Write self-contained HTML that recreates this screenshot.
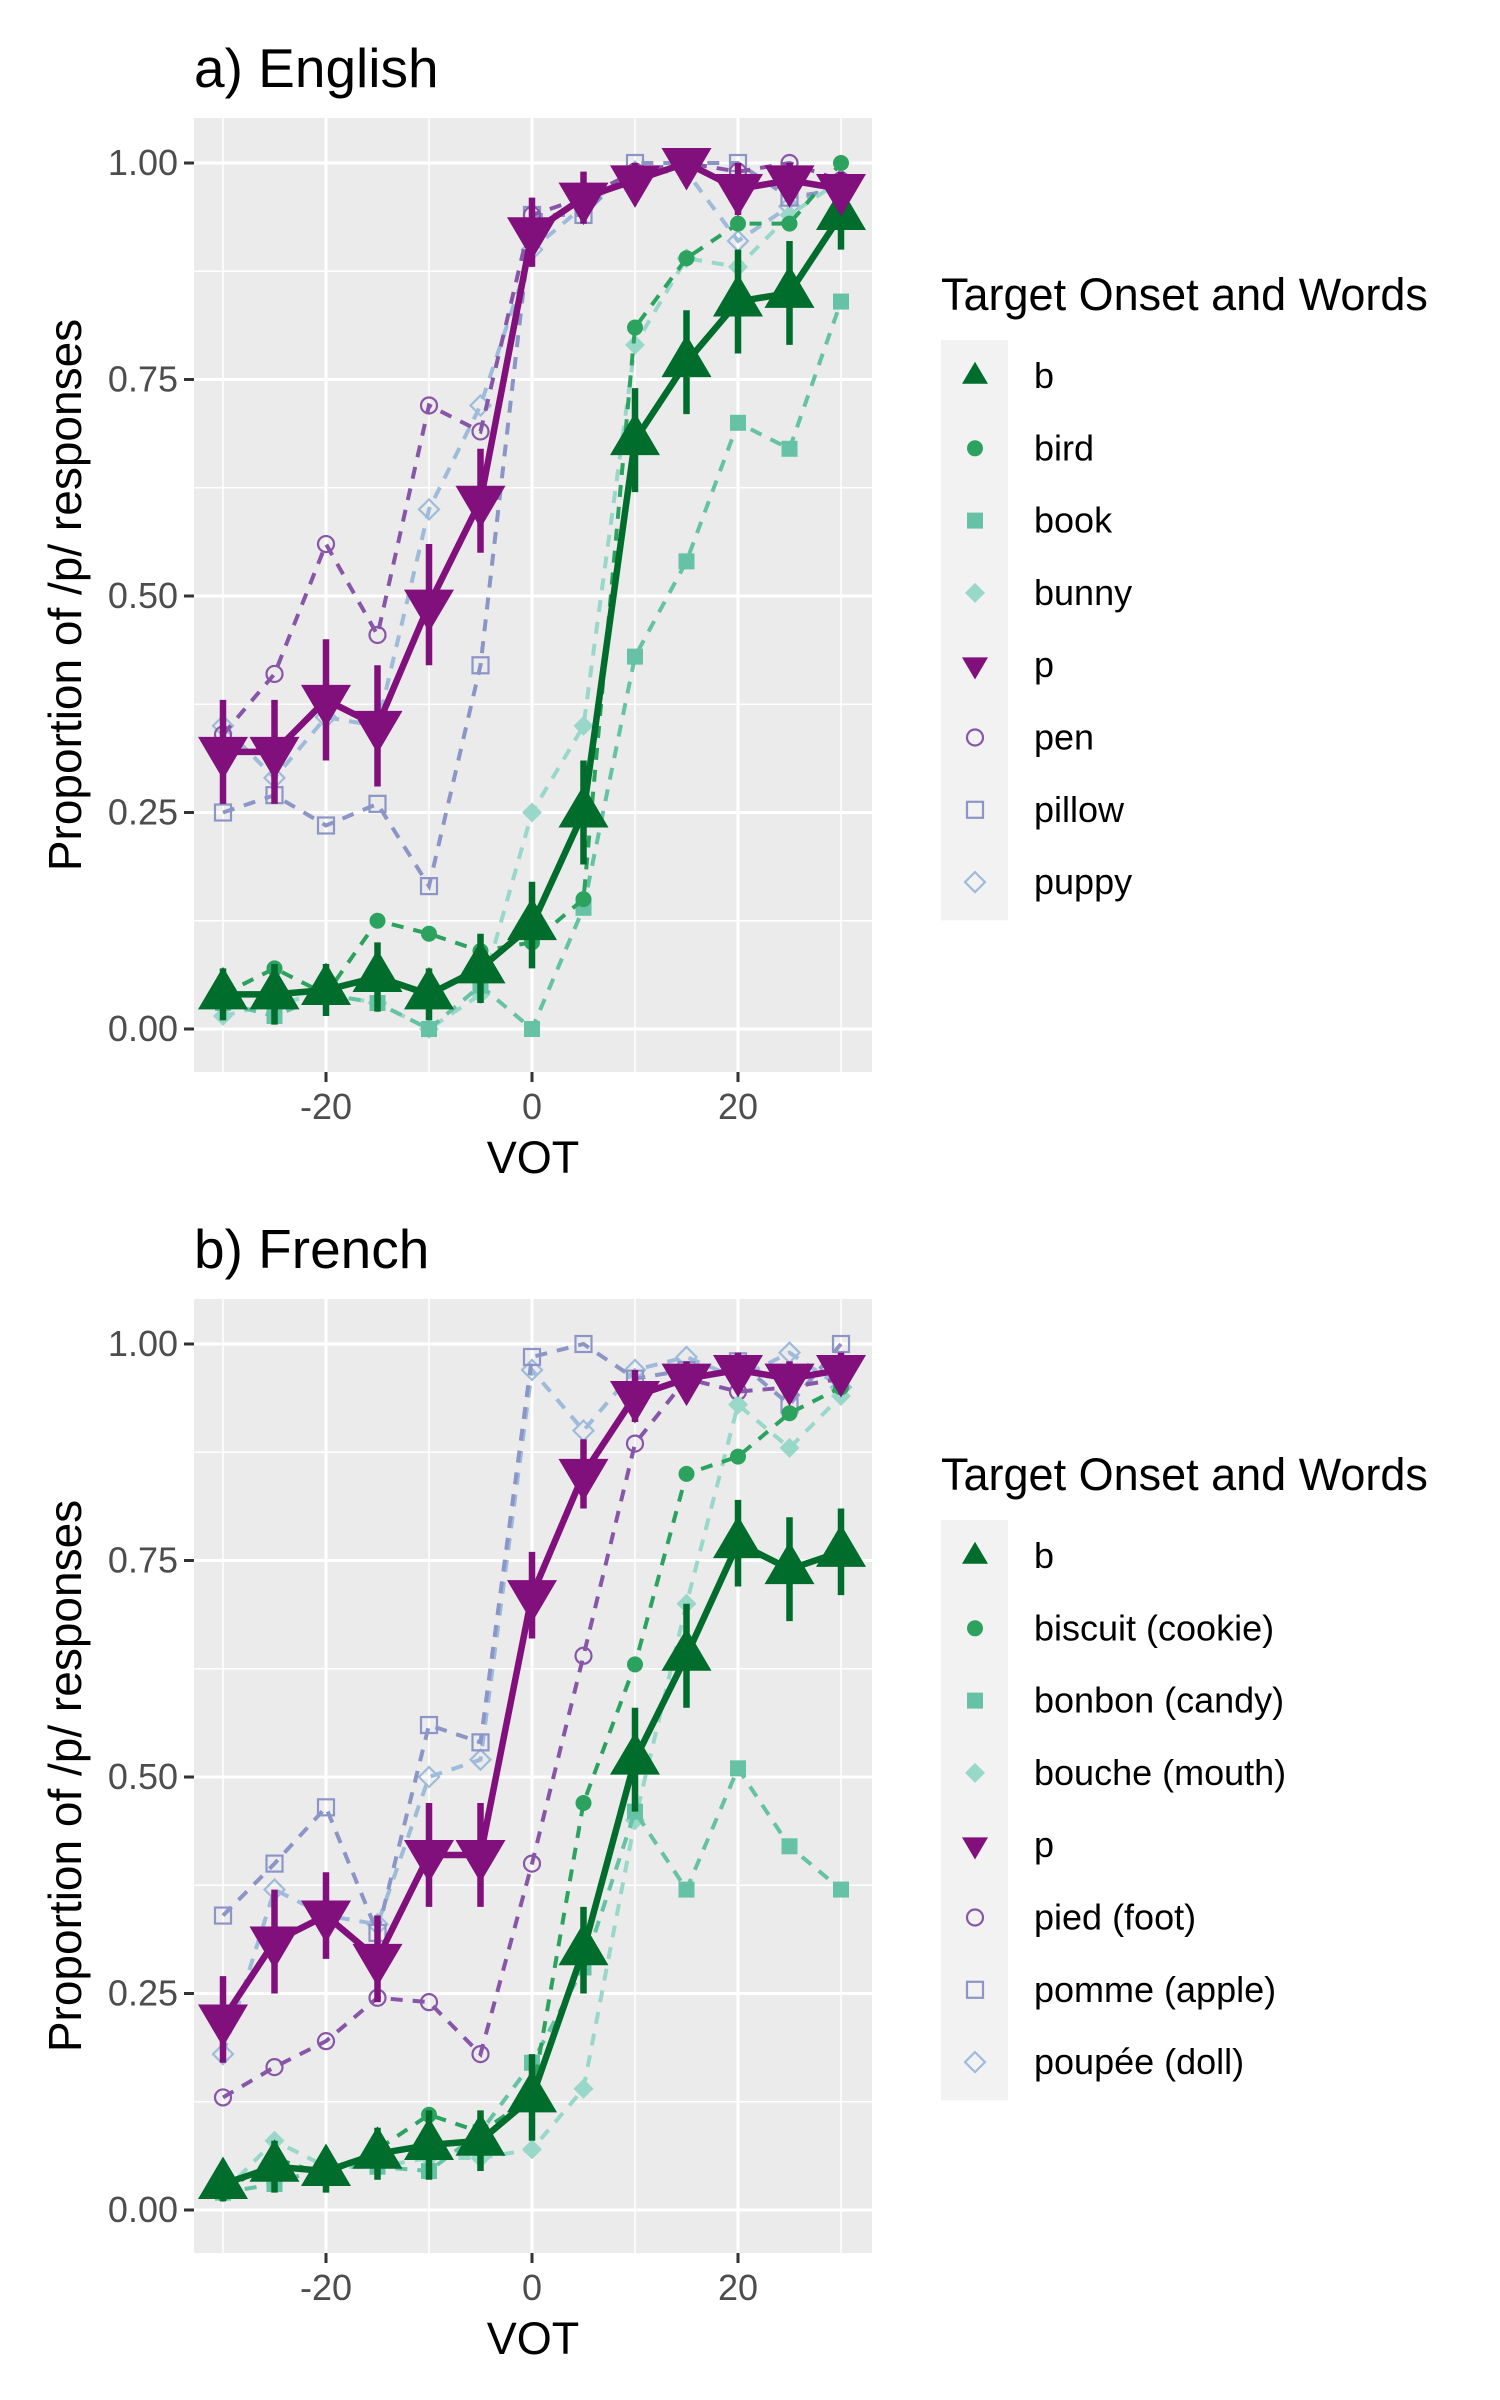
<!DOCTYPE html>
<html><head><meta charset="utf-8"><style>
html,body{margin:0;padding:0;background:#fff}
svg{display:block;font-family:"Liberation Sans",Arial,sans-serif}
</style></head><body>
<svg id="chart" width="1500" height="2400" viewBox="0 0 1500 2400" xmlns="http://www.w3.org/2000/svg"></svg>
<script>
const vot = [-30,-25,-20,-15,-10,-5,0,5,10,15,20,25,30];
const xTicks = [-20,0,20];
const yTicks = [0,0.25,0.5,0.75,1];
const yTickLabels = ["0.00","0.25","0.50","0.75","1.00"];

// English
const enNames = ["b","bird","book","bunny","p","pen","pillow","puppy"];
const en_b      = [0.04,0.04,0.045,0.06,0.04,0.07,0.12,0.25,0.68,0.77,0.84,0.85,0.94];
const en_b_err  = [0.03,0.035,0.03,0.04,0.03,0.04,0.05,0.06,0.06,0.06,0.06,0.06,0.04];
const en_bird   = [0.04,0.07,0.04,0.125,0.11,0.09,0.10,0.15,0.81,0.89,0.93,0.93,1.00];
const en_book   = [0.03,0.015,0.04,0.03,0.0,0.05,0.0,0.14,0.43,0.54,0.70,0.67,0.84];
const en_bunny  = [0.015,0.03,0.04,0.03,0.0,0.04,0.25,0.35,0.79,0.89,0.88,0.94,0.98];
const en_p      = [0.32,0.32,0.38,0.35,0.49,0.61,0.92,0.96,0.98,1.00,0.97,0.98,0.97];
const en_p_err  = [0.06,0.06,0.07,0.07,0.07,0.06,0.04,0.03,0.02,0.01,0.03,0.02,0.02];
const en_pen    = [0.34,0.41,0.56,0.455,0.72,0.69,0.94,0.96,0.99,1.00,0.99,1.00,0.98];
const en_pillow = [0.25,0.27,0.235,0.26,0.165,0.42,0.94,0.94,1.00,1.00,1.00,0.96,0.97];
const en_puppy  = [0.35,0.29,0.36,0.35,0.60,0.72,0.90,0.95,0.99,0.99,0.91,0.95,0.98];

// French
const frNames = ["b","biscuit (cookie)","bonbon (candy)","bouche (mouth)","p","pied (foot)","pomme (apple)","poupée (doll)"];
const fr_b      = [0.03,0.05,0.045,0.065,0.075,0.08,0.13,0.30,0.52,0.64,0.77,0.74,0.76];
const fr_b_err  = [0.02,0.03,0.025,0.03,0.04,0.035,0.05,0.05,0.06,0.06,0.05,0.06,0.05];
const fr_biscuit= [0.02,0.06,0.04,0.07,0.11,0.09,0.13,0.47,0.63,0.85,0.87,0.92,0.95];
const fr_bonbon = [0.02,0.03,0.05,0.05,0.045,0.09,0.17,0.28,0.46,0.37,0.51,0.42,0.37];
const fr_bouche = [0.02,0.08,0.05,0.05,0.06,0.06,0.07,0.14,0.45,0.70,0.93,0.88,0.94];
const fr_p      = [0.22,0.31,0.34,0.29,0.41,0.41,0.71,0.85,0.94,0.96,0.97,0.96,0.97];
const fr_p_err  = [0.05,0.06,0.05,0.05,0.06,0.06,0.05,0.04,0.03,0.02,0.02,0.02,0.02];
const fr_pied   = [0.13,0.165,0.195,0.245,0.24,0.18,0.40,0.64,0.885,0.96,0.945,0.95,0.96];
const fr_pomme  = [0.34,0.40,0.465,0.32,0.56,0.54,0.985,1.00,0.96,0.97,0.98,0.93,1.00];
const fr_poupee = [0.18,0.37,0.34,0.33,0.50,0.52,0.97,0.90,0.97,0.985,0.96,0.99,0.95];

const NS="http://www.w3.org/2000/svg";
const svg=document.getElementById('chart');
function mk(tag,attrs,parent){const e=document.createElementNS(NS,tag);for(const k in attrs)e.setAttribute(k,attrs[k]);(parent||svg).appendChild(e);return e;}

const colors=["#006d2c","#2ca25f","#66c2a4","#99d8c9","#810f7c","#8856a7","#8c96c6","#9ebcda"];
const shapes=["tri","circle","square","diamond","tridown","ocircle","osquare","odiamond"];

function marker(g,shape,cx,cy,s,col){
  let e;
  if(shape==="tri"){e=mk('polygon',{points:`${cx-s},${cy+s*0.6} ${cx+s},${cy+s*0.6} ${cx},${cy-s*1.1}`,fill:col},g);}
  else if(shape==="tridown"){e=mk('polygon',{points:`${cx-s},${cy-s*0.6} ${cx+s},${cy-s*0.6} ${cx},${cy+s*1.1}`,fill:col},g);}
  else if(shape==="circle"){e=mk('circle',{cx:cx,cy:cy,r:s*0.8,fill:col},g);}
  else if(shape==="square"){e=mk('rect',{x:cx-s*0.8,y:cy-s*0.8,width:s*1.6,height:s*1.6,fill:col},g);}
  else if(shape==="diamond"){e=mk('polygon',{points:`${cx},${cy-s} ${cx+s},${cy} ${cx},${cy+s} ${cx-s},${cy}`,fill:col},g);}
  else if(shape==="ocircle"){e=mk('circle',{cx:cx,cy:cy,r:s*0.8,fill:'none',stroke:col,'stroke-width':2.2},g);}
  else if(shape==="osquare"){e=mk('rect',{x:cx-s*0.8,y:cy-s*0.8,width:s*1.6,height:s*1.6,fill:'none',stroke:col,'stroke-width':2.2},g);}
  else {e=mk('polygon',{points:`${cx},${cy-s} ${cx+s},${cy} ${cx},${cy+s} ${cx-s},${cy}`,fill:'none',stroke:col,'stroke-width':2.2},g);}
  return e;
}

function panel(top,title,names,series,errB,errP,key){
  const L=194,R=872,T=top,B=top+954;
  const y1=top+45,y0=top+911;
  const x0=532,xs=10.3;
  const X=v=>x0+v*xs, Y=v=>y0-(y0-y1)*v;
  const g=mk('g',{});  
  const t=mk('text',{x:L,y:top-31,'font-size':55,fill:'#000'},g); t.textContent=title;
   
  const bg=mk('rect',{x:L,y:T,width:R-L,height:B-T,fill:'#ebebeb'},g);
   
  [0.125,0.375,0.625,0.875].forEach(v=>mk('line',{x1:L,x2:R,y1:Y(v),y2:Y(v),stroke:'#fff','stroke-width':1.5},g));
  [-30,-10,10,30].forEach(v=>mk('line',{x1:X(v),x2:X(v),y1:T,y2:B,stroke:'#fff','stroke-width':1.5},g));
  yTicks.forEach((v,i)=>{
    mk('line',{x1:L,x2:R,y1:Y(v),y2:Y(v),stroke:'#fff','stroke-width':3},g);
    mk('line',{x1:L-10,x2:L,y1:Y(v),y2:Y(v),stroke:'#333','stroke-width':3},g);
    const tl=mk('text',{x:L-16,y:Y(v)+12,'font-size':36,fill:'#4d4d4d','text-anchor':'end'},g); tl.textContent=yTickLabels[i];
     
  });
  xTicks.forEach(v=>{
    mk('line',{x1:X(v),x2:X(v),y1:T,y2:B,stroke:'#fff','stroke-width':3},g);
    mk('line',{x1:X(v),x2:X(v),y1:B,y2:B+10,stroke:'#333','stroke-width':3},g);
    const tl=mk('text',{x:X(v),y:B+47,'font-size':36,fill:'#4d4d4d','text-anchor':'middle'},g); tl.textContent=String(v);
     
  });
  const xt=mk('text',{x:(L+R)/2,y:B+101,'font-size':45,fill:'#000','text-anchor':'middle'},g); xt.textContent='VOT';
   
  const yc=(T+B)/2;
  const yt=mk('text',{x:81,y:yc,'font-size':46,fill:'#000','text-anchor':'middle',transform:`rotate(-90 81 ${yc})`},g); yt.textContent='Proportion of /p/ responses';
   
  const cid='clip'+key;
  const cp=mk('clipPath',{id:cid},g); mk('rect',{x:L,y:T,width:R-L,height:B-T},cp);
  const data=mk('g',{'clip-path':`url(#${cid})`},g);
  const order=[7,6,5,3,2,1];
  order.forEach(i=>{
    const sg=mk('g',{},data);  
    const pts=series[i].map((v,j)=>X(vot[j])+','+Y(v)).join(' ');
    mk('polyline',{points:pts,fill:'none',stroke:colors[i],'stroke-width':4,'stroke-dasharray':'12,10'},sg);
    series[i].forEach((v,j)=>{const m=marker(sg,shapes[i],X(vot[j]),Y(v),10,colors[i]);  });
  });
  [[0,errB],[4,errP]].forEach(([i,err])=>{
    const sg=mk('g',{},data);  
    const pts=series[i].map((v,j)=>X(vot[j])+','+Y(v)).join(' ');
    mk('polyline',{points:pts,fill:'none',stroke:colors[i],'stroke-width':6.5,'stroke-linejoin':'round'},sg);
    series[i].forEach((v,j)=>{
      const eb=mk('line',{x1:X(vot[j]),x2:X(vot[j]),y1:Y(v-err[j]),y2:Y(v+err[j]),stroke:colors[i],'stroke-width':6.5},sg);
       
      const m=marker(sg,shapes[i],X(vot[j]),Y(v),25,colors[i]);  
    });
  });
}

function legend(titleY,boxTop,names,key){
  const lg=mk('g',{});  
  const lt=mk('text',{x:941,y:titleY,'font-size':45,fill:'#000'},lg); lt.textContent='Target Onset and Words';
   
  mk('rect',{x:941,y:boxTop,width:67,height:8*72.3+2,fill:'#f2f2f2'},lg);
  names.forEach((n,i)=>{
    const cy=boxTop+36+i*72.3;
    const eg=mk('g',{},lg);  
    marker(eg,shapes[i],975,cy,shapes[i].indexOf('tri')>=0?13:10,colors[i]);
    const tx=mk('text',{x:1034,y:cy+12,'font-size':36,fill:'#000'},eg); tx.textContent=n;
  });
}

panel(118,'a) English',enNames,[en_b,en_bird,en_book,en_bunny,en_p,en_pen,en_pillow,en_puppy],en_b_err,en_p_err,'english');
legend(310,340,enNames,'english');
panel(1299,'b) French',frNames,[fr_b,fr_biscuit,fr_bonbon,fr_bouche,fr_p,fr_pied,fr_pomme,fr_poupee],fr_b_err,fr_p_err,'french');
legend(1490,1520,frNames,'french');
</script>
</body></html>
